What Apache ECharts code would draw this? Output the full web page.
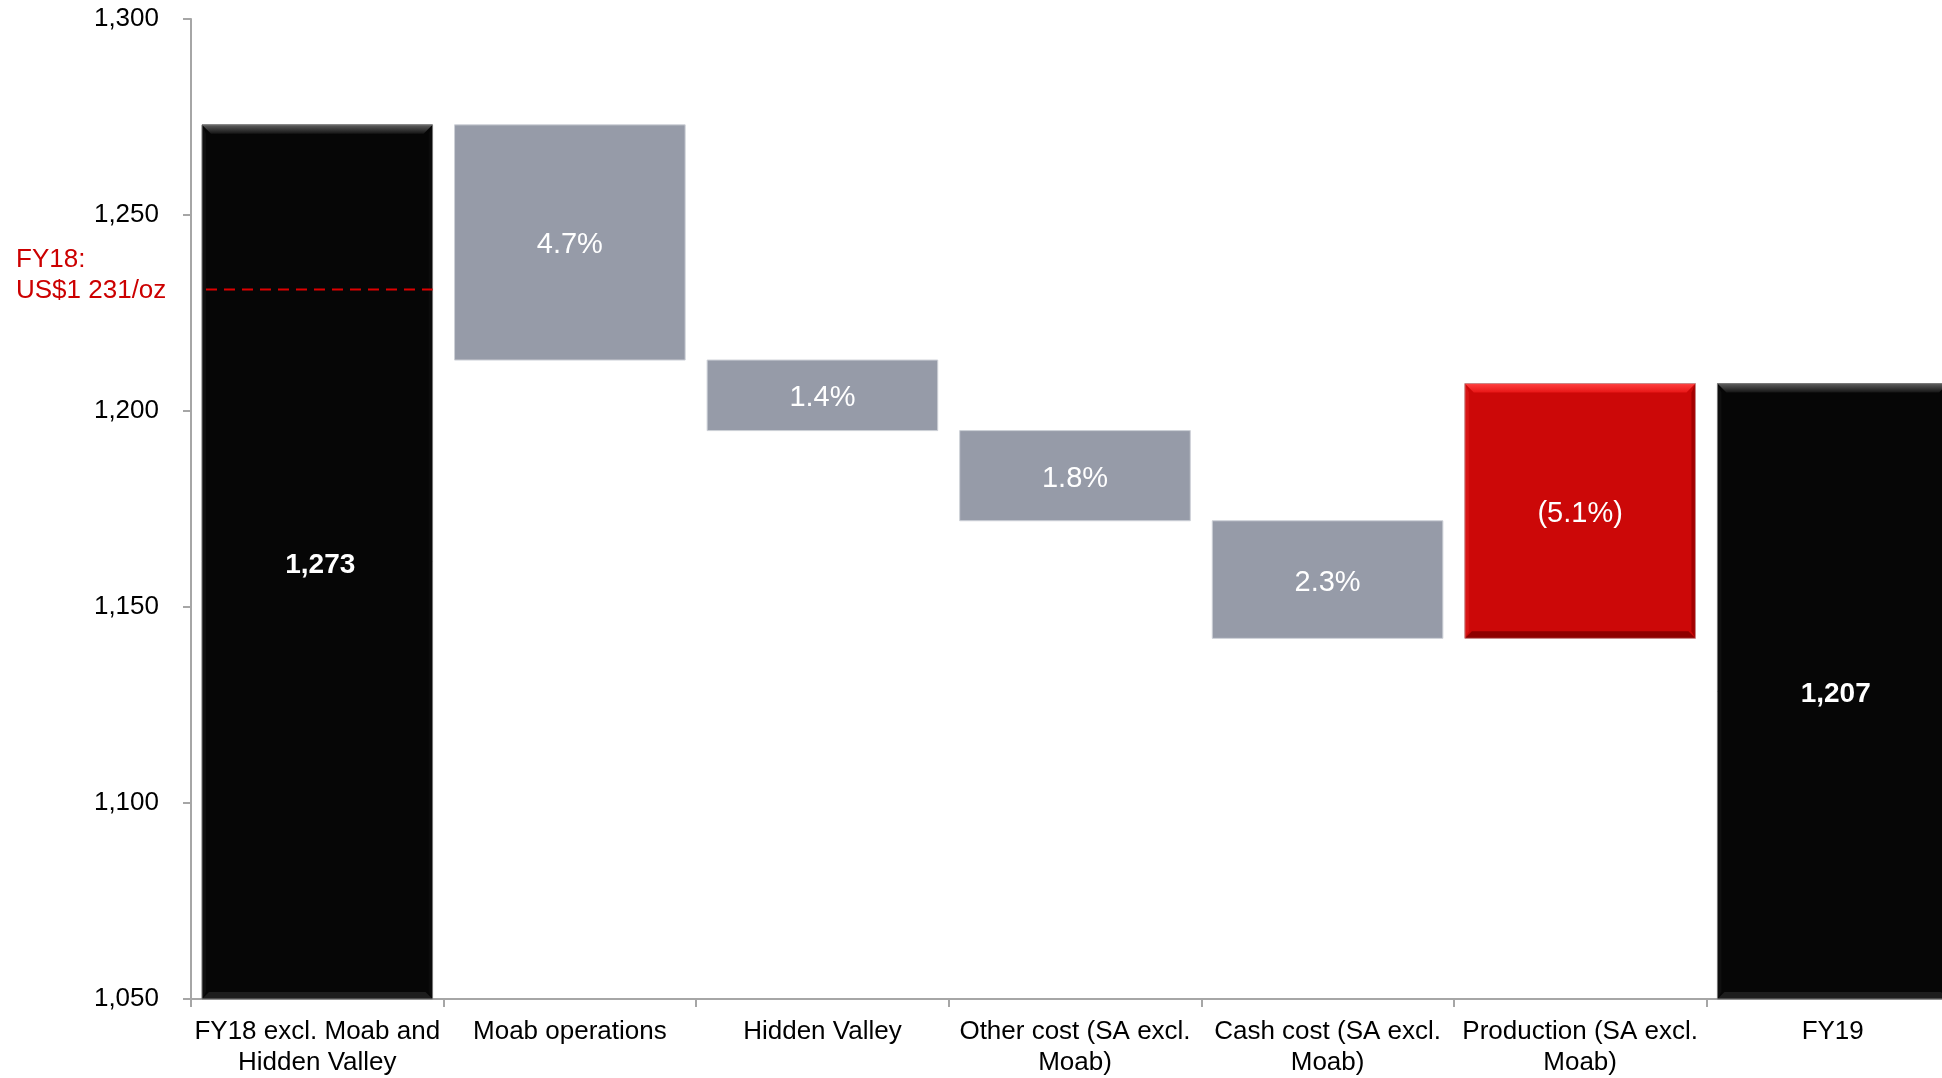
<!DOCTYPE html>
<html>
<head>
<meta charset="utf-8">
<title>AISC bridge FY18 to FY19</title>
<script src="https://cdn.jsdelivr.net/npm/echarts@6/dist/echarts.min.js"></script>
<style>
  html, body { margin: 0; padding: 0; background: #ffffff; overflow: hidden; }
  /* the plot runs slightly past the right edge of the page, so the last bar is cut off */
  #chart { width: 1959px; height: 1078px; }
</style>
</head>
<body>
<div id="chart"></div>
<script>
// Categories along the bridge, left to right
const categories = [
  'FY18 excl. Moab and\nHidden Valley',
  'Moab operations',
  'Hidden Valley',
  'Other cost (SA excl.\nMoab)',
  'Cash cost (SA excl.\nMoab)',
  'Production (SA excl.\nMoab)',
  'FY19'
];

// Opening and closing totals (US$/oz)
const openingTotal = 1273;
const closingTotal = 1207;

// Movements between the totals (US$/oz) and their stated percentages
const changes = [-60, -18, -23, -30, 65];
const changeLabels = ['4.7%', '1.4%', '1.8%', '2.3%', '(5.1%)'];

// Reported FY18 reference level
const fy18Reported = 1231;
const fy18Note = 'FY18:\nUS$1 231/oz';

// Value axis range
const yMin = 1050;
const yMax = 1300;
const yStep = 50;

const FONT = '"Liberation Sans", Arial, Helvetica, sans-serif';

// Build [index, low, high] rows for the waterfall
const bars = [];
bars.push({ value: [0, yMin, openingTotal], kind: 'total', label: openingTotal.toLocaleString('en-US') });
let running = openingTotal;
changes.forEach((d, k) => {
  const next = running + d;
  bars.push({
    value: [k + 1, Math.min(running, next), Math.max(running, next)],
    kind: d < 0 ? 'down' : 'up',
    label: changeLabels[k]
  });
  running = next;
});
bars.push({ value: [categories.length - 1, yMin, closingTotal], kind: 'total', label: closingTotal.toLocaleString('en-US') });

const BAR_RATIO = 0.913;

function bevelShapes(x0, y0, x1, y1, pal) {
  const t = 9, b = 7, s = 4;
  return [
    { type: 'polygon', shape: { points: [[x0, y0], [x1, y0], [x1 - t, y0 + t], [x0 + t, y0 + t]] },
      style: { fill: new echarts.graphic.LinearGradient(0, 0, 0, 1, [
        { offset: 0, color: pal.topA }, { offset: 1, color: pal.topB }]) } },
    { type: 'polygon', shape: { points: [[x0, y1], [x1, y1], [x1 - b, y1 - b], [x0 + b, y1 - b]] },
      style: { fill: pal.bottom } },
    { type: 'polygon', shape: { points: [[x0, y0], [x0 + s, y0 + t], [x0 + s, y1 - b], [x0, y1]] },
      style: { fill: pal.left } },
    { type: 'polygon', shape: { points: [[x1, y0], [x1 - s, y0 + t], [x1 - s, y1 - b], [x1, y1]] },
      style: { fill: pal.right } }
  ];
}

const palettes = {
  total: { fill: '#060606', stroke: '#7a7a7a', topA: '#5e5e5e', topB: '#141414',
           bottom: '#1d1d1d', left: '#0f0f0f', right: '#0b0b0b' },
  up:    { fill: '#cc0808', stroke: '#c98a8a', topA: '#ff4040', topB: '#e81616',
           bottom: '#8e0000', left: '#d81414', right: '#a40000' }
};

function renderBar(params, api) {
  const item = bars[params.dataIndex];
  const i = api.value(0);
  const top = api.coord([i, api.value(2)]);
  const bottom = api.coord([i, api.value(1)]);
  const w = api.size([1, 0])[0] * BAR_RATIO;
  const x0 = top[0] - w / 2, x1 = x0 + w;
  const y0 = top[1], y1 = bottom[1];
  const children = [];
  if (item.kind === 'down') {
    children.push({ type: 'rect', shape: { x: x0, y: y0, width: w, height: y1 - y0 },
      style: { fill: '#969ba8', stroke: '#cdd0d7', lineWidth: 1 } });
  } else {
    const pal = palettes[item.kind];
    children.push({ type: 'rect', shape: { x: x0, y: y0, width: w, height: y1 - y0 },
      style: { fill: pal.fill } });
    bevelShapes(x0, y0, x1, y1, pal).forEach(c => children.push(c));
    children.push({ type: 'rect', shape: { x: x0, y: y0, width: w, height: y1 - y0 },
      style: { fill: 'none', stroke: pal.stroke, lineWidth: 1 } });
  }
  // value text sits in the middle of the bar, nudged to the optical centre
  children.push({ type: 'text', x: top[0] + (item.kind === 'total' ? 3 : 0), y: (y0 + y1) / 2 + 3,
    style: { text: item.label, align: 'center', verticalAlign: 'middle', fill: '#ffffff',
      font: (item.kind === 'total' ? 'bold 28px ' : '29px ') + FONT } });
  return { type: 'group', children: children };
}

function renderRefLine(params, api) {
  const i = api.value(0);
  const p = api.coord([i, api.value(1)]);
  const w = api.size([1, 0])[0] * BAR_RATIO;
  const x0 = p[0] - w / 2, x1 = x0 + w;
  return { type: 'line', shape: { x1: x0 + 4, y1: p[1], x2: x1, y2: p[1] },
    style: { stroke: '#dd0000', lineWidth: 2, lineDash: [11, 7] } };
}

const chart = echarts.init(document.getElementById('chart'), null, { renderer: 'canvas' });

chart.setOption({
  animation: false,
  backgroundColor: '#ffffff',
  grid: { left: 191, top: 19, right: 0, height: 982, containLabel: false },
  xAxis: {
    type: 'category',
    data: categories,
    boundaryGap: true,
    axisLine: { show: true, lineStyle: { color: '#a6a6a6', width: 2 } },
    axisTick: { show: true, alignWithLabel: false, length: 8, lineStyle: { color: '#a6a6a6', width: 2 } },
    axisLabel: { color: '#000000', fontFamily: FONT, fontSize: 26, lineHeight: 31, margin: 17, interval: 0 },
    splitLine: { show: false }
  },
  yAxis: {
    type: 'value',
    min: yMin, max: yMax, interval: yStep,
    axisLine: { show: true, lineStyle: { color: '#a6a6a6', width: 2 } },
    axisTick: { show: true, length: 8, lineStyle: { color: '#a6a6a6', width: 2 } },
    axisLabel: { color: '#000000', fontFamily: FONT, fontSize: 26, margin: 32, padding: [5, 0, 0, 0],
      formatter: v => v.toLocaleString('en-US') },
    splitLine: { show: false }
  },
  graphic: [{
    type: 'text', x: 16, y: 244,
    style: { text: fy18Note, fill: '#cc0000', font: '26px ' + FONT, lineHeight: 31 }
  }],
  series: [
    {
      type: 'custom',
      name: 'AISC',
      renderItem: renderBar,
      encode: { x: 0, y: [1, 2] },
      data: bars.map(b => b.value),
      clip: false,
      z: 2
    },
    {
      type: 'custom',
      name: 'FY18 reported',
      renderItem: renderRefLine,
      encode: { x: 0, y: 1 },
      data: [[0, fy18Reported]],
      z: 3
    }
  ]
});
</script>
</body>
</html>
